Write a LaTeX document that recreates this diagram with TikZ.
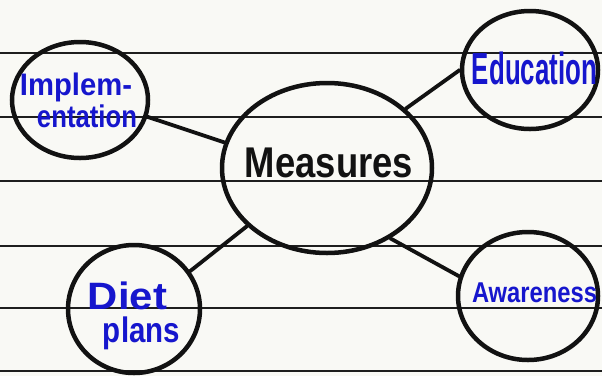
\documentclass[tikz,border=0pt]{standalone}
\usepackage{fontspec}
\setmainfont{Liberation Sans}
\usetikzlibrary{shapes.geometric}
\definecolor{paper}{RGB}{249,249,245}
\definecolor{rulecol}{RGB}{30,30,30}
\definecolor{ink}{RGB}{22,22,205}
\definecolor{pen}{RGB}{18,18,18}
\begin{document}
\begin{tikzpicture}[x=1pt,y=-1pt,
  bubble/.style={ellipse,draw=pen,line width=4.5pt,inner sep=0pt},
  link/.style={draw=pen,line width=3.8pt,line cap=round},
  ruled/.style={draw=rulecol,line width=2pt},
  word/.style={inner sep=0pt,text=ink,font=\bfseries},
  hub/.style={inner sep=0pt,text=pen,font=\bfseries}]
\fill[paper] (0,0) rectangle (602,376);
\useasboundingbox (0,0) rectangle (602,376);
\foreach \yy in {53,117,181,246,308,371} \draw[ruled] (0,\yy) -- (602,\yy);
% bubbles
\node[bubble,minimum width=210pt,minimum height=170pt] (meas) at (327,168) {};
\node[bubble,minimum width=136pt,minimum height=116pt] (impl) at (80,100) {};
\node[bubble,minimum width=136pt,minimum height=118pt] (edu) at (530,70) {};
\node[bubble,minimum width=132pt,minimum height=128pt] (diet) at (134,309) {};
\node[bubble,minimum width=140pt,minimum height=128pt] (aware) at (528,296) {};
% links
\draw[link] (impl.-14) -- (meas.166);
\draw[link] (edu.180) -- (meas.37);
\draw[link] (diet.34) -- (meas.216);
\draw[link] (aware.164) -- (meas.-48);
% texts
\node[hub] (measT) at (329,163) {\resizebox*{168pt}{30pt}{Measures}};
\node[word] (implA) at (76,87.5) {\resizebox*{112pt}{29pt}{Implem-}};
\node[word] (implB) at (87,116.5) {\resizebox*{100pt}{23pt}{entation}};
\node[word] (eduT) at (534.5,68) {\resizebox*{125pt}{33pt}{Education}};
\node[word] (dietA) at (127.5,296) {\resizebox*{79pt}{28pt}{Diet}};
\node[word] (dietB) at (141.5,333.5) {\resizebox*{77pt}{33pt}{plans}};
\node[word] (awareT) at (534.5,293) {\resizebox*{125pt}{20pt}{Awareness}};
\end{tikzpicture}
\end{document}
